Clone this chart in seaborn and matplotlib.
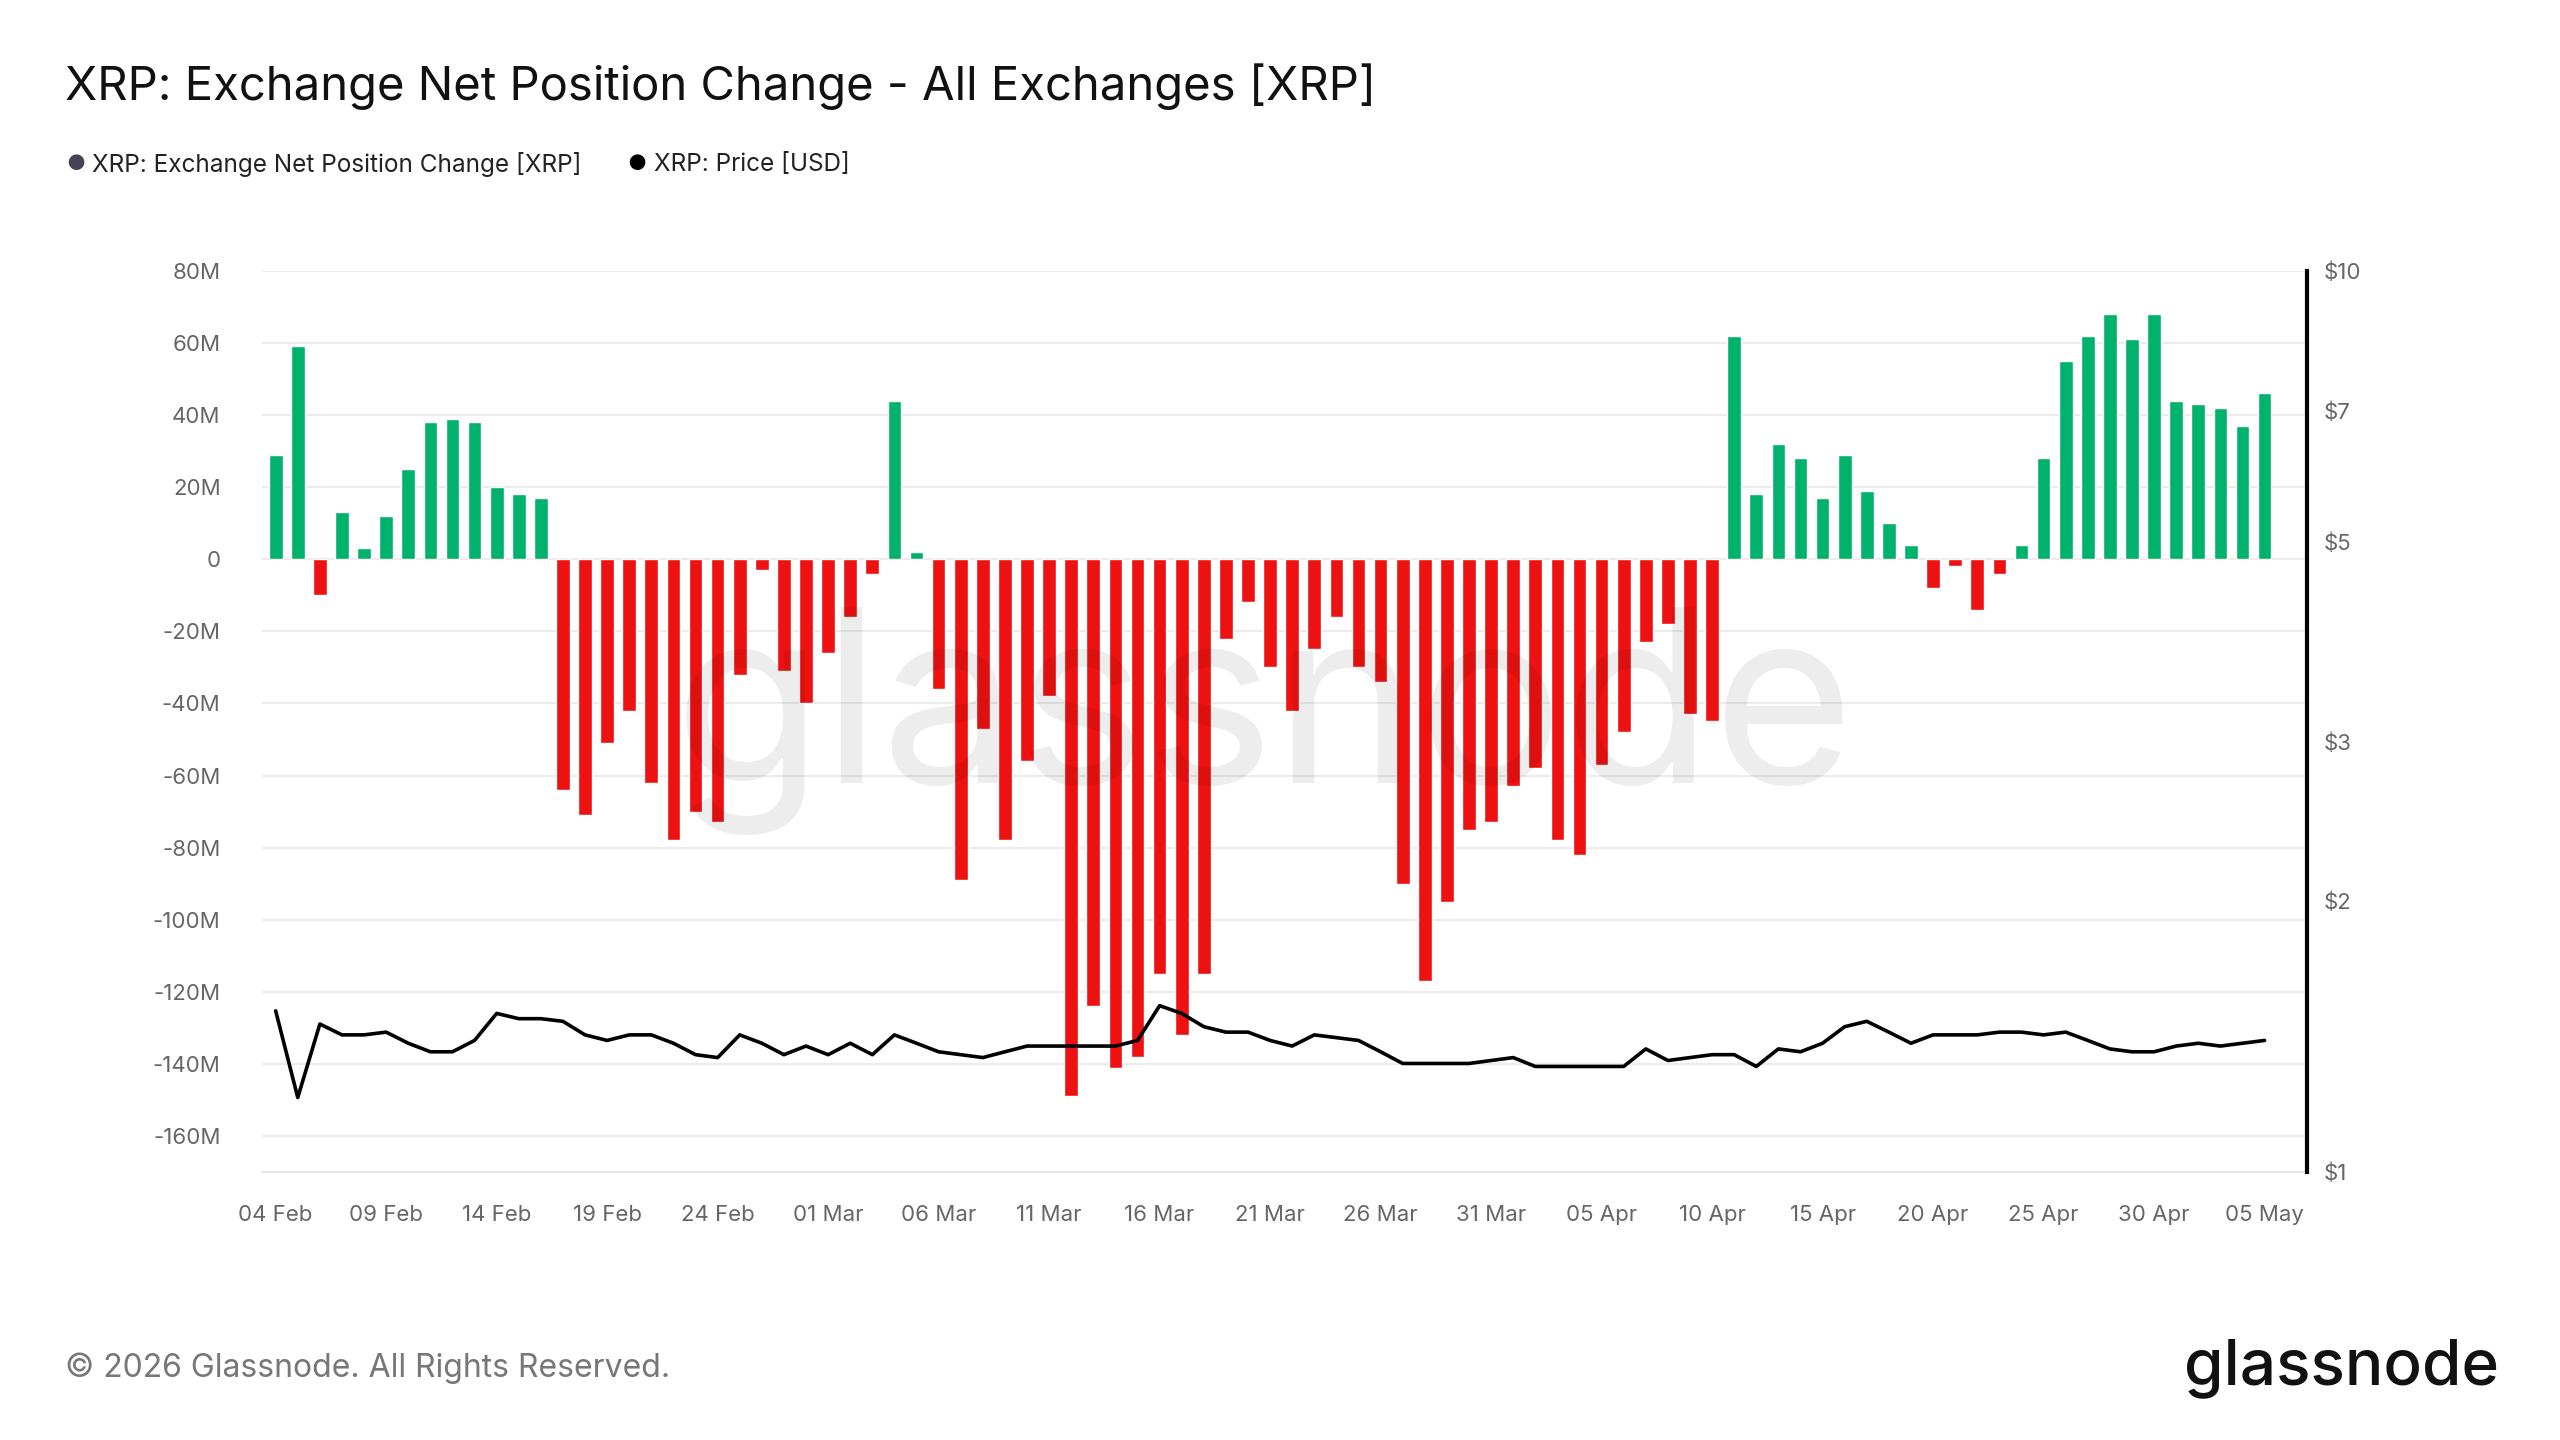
import numpy as np
import pandas as pd
import matplotlib
matplotlib.use("Agg")
import matplotlib.pyplot as plt
import seaborn as sns

sns.set_theme(style="white")
plt.rcParams['font.family'] = ['Inter', 'DejaVu Sans']

start_date = "2026-02-04"
net_change_m = [29, 59, -10, 13, 3, 12, 25, 38, 39, 38, 20, 18, 17,
                -64, -71, -51, -42, -62, -78, -70, -73, -32, -3, -31, -40,
                -26, -16, -4, 44, 2, -36, -89, -47, -78, -56, -38,
                -149, -124, -141, -138, -115, -132, -115, -22, -12, -30, -42, -25, -16, -30, -34,
                -90, -117, -95, -75, -73,
                -63, -58, -78, -82, -57, -48, -23, -18, -43, -45,
                62, 18, 32, 28, 17, 29, 19, 10, 4, -8, -2, -14, -4, 4, 28,
                55, 62, 68, 61, 68,
                44, 43, 42, 37, 46]
price_usd = [1.51, 1.21, 1.46, 1.42, 1.42, 1.43, 1.39, 1.36, 1.36, 1.40, 1.50, 1.48, 1.48,
             1.47, 1.42, 1.40, 1.42, 1.42, 1.39, 1.35, 1.34, 1.42, 1.39, 1.35, 1.38,
             1.35, 1.39, 1.35, 1.42, 1.39, 1.36, 1.35, 1.34, 1.36, 1.38, 1.38,
             1.38, 1.38, 1.38, 1.40, 1.53, 1.50, 1.45, 1.43, 1.43, 1.40, 1.38, 1.42, 1.41, 1.40, 1.36,
             1.32, 1.32, 1.32, 1.32, 1.33,
             1.34, 1.31, 1.31, 1.31, 1.31, 1.31, 1.37, 1.33, 1.34, 1.35,
             1.35, 1.31, 1.37, 1.36, 1.39, 1.45, 1.47, 1.43, 1.39, 1.42, 1.42, 1.42, 1.43, 1.43, 1.42,
             1.43, 1.40, 1.37, 1.36, 1.36,
             1.38, 1.39, 1.38, 1.39, 1.40]
tick_labels = ["04 Feb", "09 Feb", "14 Feb", "19 Feb", "24 Feb", "01 Mar", "06 Mar", "11 Mar",
               "16 Mar", "21 Mar", "26 Mar", "31 Mar", "05 Apr", "10 Apr", "15 Apr", "20 Apr",
               "25 Apr", "30 Apr", "05 May"]
y_ticks_m = [80, 60, 40, 20, 0, -20, -40, -60, -80, -100, -120, -140, -160]
price_ticks = [1, 2, 3, 5, 7, 10]

n = len(net_change_m)
df = pd.DataFrame({"day": np.arange(n), "net": net_change_m, "price": price_usd[:n]})
df["sign"] = np.where(df["net"] >= 0, "pos", "neg")

fig = plt.figure(figsize=(25.6, 14.4), dpi=100)
ax = fig.add_axes([0.1025, 0.186, 0.7985, 0.626])

sns.barplot(data=df, x="day", y="net", hue="sign", palette={"pos": "#00b26b", "neg": "#ee1111"},
            native_scale=True, width=0.62, dodge=False, legend=False, ax=ax, saturation=1)
ax.set_xlim(-0.6, 91.9)
ax.set_ylim(-170, 80)
ax.set_yticks(y_ticks_m)
ax.set_yticklabels([("0" if v == 0 else f"{v}M") for v in y_ticks_m], color="#666666", fontsize=16)
ax.set_xticks(np.arange(0, n, 5))
ax.set_xticklabels(tick_labels, color="#666666", fontsize=16)
ax.tick_params(axis="x", length=6, color="#cccccc", pad=18)
ax.tick_params(axis="y", length=0, pad=30)
ax.grid(axis="y", color="#ececec", linewidth=1.5)
ax.set_axisbelow(True)
for s in ["top", "right", "left"]:
    ax.spines[s].set_visible(False)
ax.spines["bottom"].set_color("#e0e0e0")
ax.set_xlabel("")
ax.set_ylabel("")

ax2 = ax.twinx()
sns.lineplot(data=df, x="day", y="price", color="black", linewidth=2.6, ax=ax2)
ax2.set_yscale("log")
ax2.set_ylim(1, 10)
ax2.set_yticks(price_ticks)
ax2.set_yticklabels([f"${v}" for v in price_ticks], color="#666666", fontsize=16)
ax2.yaxis.set_minor_locator(matplotlib.ticker.NullLocator())
ax2.tick_params(axis="y", length=0, pad=12)
for s in ["top", "left", "bottom"]:
    ax2.spines[s].set_visible(False)
ax2.spines["right"].set_color("black")
ax2.spines["right"].set_linewidth(3)
ax2.set_xlim(-0.6, 91.9)
ax2.set_xlabel("")
ax2.set_ylabel("")

fig.text(0.49, 0.5, "glassnode", fontsize=175, color="#000000", alpha=0.07,
         ha="center", va="center", transform=ax.transAxes)

fig.text(0.0255, 0.94, "XRP: Exchange Net Position Change - All Exchanges [XRP]",
         fontsize=34, color="#111111", va="center")
fig.text(0.026, 0.886, "●", fontsize=15, color="#444455", va="center")
fig.text(0.036, 0.886, "XRP: Exchange Net Position Change [XRP]", fontsize=17.5, color="#222222", va="center")
fig.text(0.245, 0.886, "●", fontsize=15, color="black", va="center")
fig.text(0.2555, 0.886, "XRP: Price [USD]", fontsize=17.5, color="#222222", va="center")
fig.text(0.0255, 0.05, "© 2026 Glassnode. All Rights Reserved.", fontsize=23, color="#777777", va="center")
fig.text(0.976, 0.05, "glassnode", fontsize=46, color="#111111", ha="right", va="center", fontweight="medium")

fig.savefig("out.png", dpi=100)
